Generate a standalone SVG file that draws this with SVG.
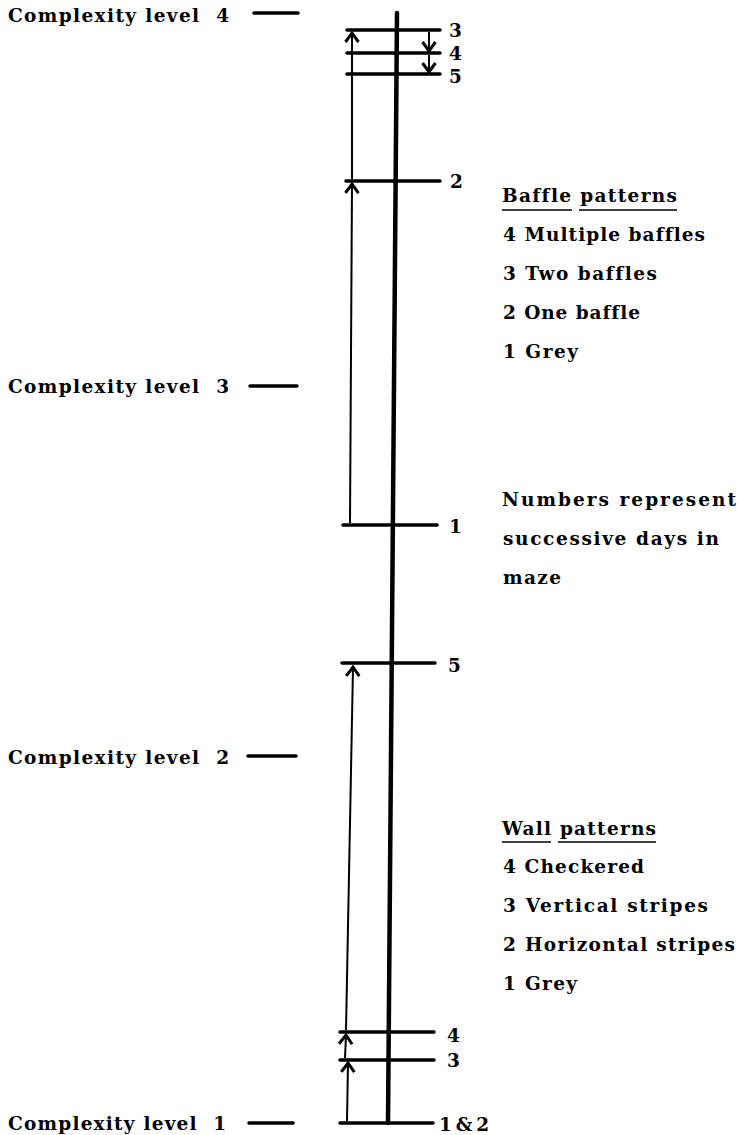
<svg xmlns="http://www.w3.org/2000/svg" width="738" height="1135" viewBox="0 0 738 1135">
<style>
.t{font-family:"DejaVu Serif","Liberation Serif",serif;font-weight:bold;font-size:18.5px;fill:#000;font-variant-ligatures:none;font-feature-settings:"liga" 0}
.h{stroke:#000;stroke-width:3.5;stroke-linecap:round;fill:none}
.a{stroke:#000;stroke-width:2;fill:none;marker-end:url(#ah)}
.u{stroke:#000;stroke-width:1.6}
</style>
<defs>
<marker id="ah" markerUnits="userSpaceOnUse" markerWidth="20" markerHeight="20" refX="0" refY="0" viewBox="-12 -10 14 20" orient="auto">
<path d="M-9,-6.5 L0,0 L-9,6.5" fill="none" stroke="#000" stroke-width="3"/>
</marker>
</defs>
<rect width="738" height="1135" fill="#fff"/>
<g id="axis">
<line x1="397" y1="13" x2="388" y2="1123" stroke="#000" stroke-width="4.5" stroke-linecap="round"/>
</g>
<g id="levels">
<text class="t" x="8" y="22" textLength="221" xml:space="preserve">Complexity level  4</text>
<line class="h" x1="254" y1="13" x2="298" y2="13"/>
<text class="t" x="8" y="393" textLength="221" xml:space="preserve">Complexity level  3</text>
<line class="h" x1="250" y1="386" x2="297" y2="386"/>
<text class="t" x="8" y="764" textLength="221" xml:space="preserve">Complexity level  2</text>
<line class="h" x1="248" y1="756" x2="296" y2="756"/>
<text class="t" x="8" y="1130" textLength="218" xml:space="preserve">Complexity level  1</text>
<line class="h" x1="249" y1="1123" x2="293" y2="1123"/>
</g>
<g id="days">
<line class="h" x1="347" y1="30" x2="440" y2="30"/><text class="t" x="449" y="37">3</text>
<line class="h" x1="347" y1="53" x2="440" y2="53"/><text class="t" x="449" y="60">4</text>
<line class="h" x1="347" y1="74" x2="440" y2="74"/><text class="t" x="449" y="83">5</text>
<line class="h" x1="346" y1="181" x2="440" y2="181"/><text class="t" x="450" y="188">2</text>
<line class="h" x1="343" y1="525" x2="437" y2="525"/><text class="t" x="449" y="533">1</text>
<line class="h" x1="342" y1="663" x2="435" y2="663"/><text class="t" x="448" y="672">5</text>
<line class="h" x1="340" y1="1032" x2="434" y2="1032"/><text class="t" x="447" y="1042">4</text>
<line class="h" x1="340" y1="1060" x2="434" y2="1060"/><text class="t" x="447" y="1067">3</text>
<line class="h" x1="340" y1="1123" x2="433" y2="1123"/><text class="t" x="439" y="1131" textLength="50">1 &amp; 2</text>
</g>
<g id="connectors">
<line class="a" x1="347" y1="1121" x2="348" y2="1063"/>
<line class="a" x1="345" y1="1058" x2="346" y2="1035"/>
<line class="a" x1="346" y1="1030" x2="353" y2="667"/>
<line class="a" x1="350" y1="523" x2="352" y2="184"/>
<line class="a" x1="352" y1="179" x2="352" y2="33"/>
<line class="a" x1="429" y1="32" x2="429" y2="51"/>
<line class="a" x1="429" y1="55" x2="429" y2="72"/>
</g>
<g id="baffle-legend">
<text class="t" x="502" y="202" textLength="175">Baffle patterns</text>
<line class="u" x1="502" y1="210" x2="572" y2="210"/>
<line class="u" x1="579" y1="210" x2="677" y2="210"/>
<text class="t" x="503" y="241" textLength="202">4 Multiple baffles</text>
<text class="t" x="503" y="280" textLength="154">3 Two baffles</text>
<text class="t" x="503" y="319" textLength="137">2 One baffle</text>
<text class="t" x="503" y="358" textLength="75">1 Grey</text>
</g>
<g id="note">
<text class="t" x="502" y="506" textLength="234">Numbers represent</text>
<text class="t" x="503" y="545" textLength="216">successive days in</text>
<text class="t" x="503" y="584" textLength="58">maze</text>
</g>
<g id="wall-legend">
<text class="t" x="502" y="835" textLength="154">Wall patterns</text>
<line class="u" x1="502" y1="842" x2="551" y2="842"/>
<line class="u" x1="558" y1="842" x2="656" y2="842"/>
<text class="t" x="503" y="873" textLength="141">4 Checkered</text>
<text class="t" x="503" y="912" textLength="205">3 Vertical stripes</text>
<text class="t" x="503" y="951" textLength="232">2 Horizontal stripes</text>
<text class="t" x="503" y="990" textLength="74">1 Grey</text>
</g>
</svg>
